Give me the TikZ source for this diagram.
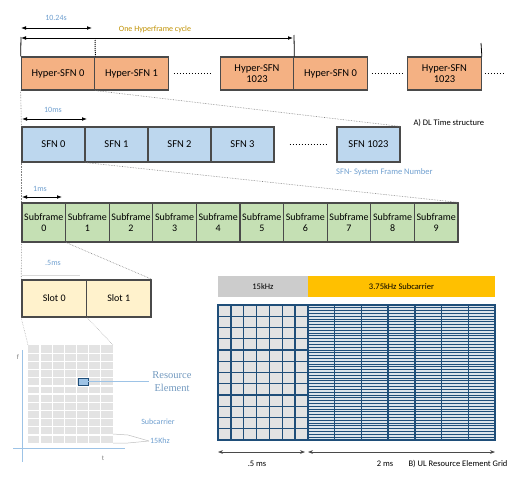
\documentclass[tikz,border=0pt]{standalone}
\usepackage{fontspec}
\setmainfont{Carlito}
\newfontfamily\reserif{Liberation Serif}
\usetikzlibrary{arrows.meta}

\definecolor{hyperfill}{HTML}{F4B183}
\definecolor{sfnfill}{HTML}{BDD7EE}
\definecolor{subfill}{HTML}{C5E0B4}
\definecolor{slotfill}{HTML}{FFF2CC}
\definecolor{boxline}{HTML}{4A4A4A}
\definecolor{labblue}{HTML}{6F9FCF}
\definecolor{cyclegold}{HTML}{BF9000}
\definecolor{ulblue}{HTML}{1F4E79}
\definecolor{ulgold}{HTML}{FFC000}
\definecolor{axisblue}{HTML}{9DC3E6}

\tikzset{
  hbox/.style={draw=boxline, line width=1.2pt, fill=hyperfill, minimum width=73.5pt,
    minimum height=33pt, inner sep=0pt, align=center, font=\fontsize{10.5}{11.5}\selectfont},
  sbox/.style={hbox, fill=sfnfill, minimum width=63pt, minimum height=35pt},
  subbox/.style={hbox, fill=subfill, minimum width=43.6pt, minimum height=39pt,
    font=\fontsize{10}{11.5}\selectfont},
  slotbox/.style={hbox, fill=slotfill, minimum width=64.5pt, minimum height=37pt,
    line width=1.5pt, font=\fontsize{10}{11}\selectfont},
  span/.style={{Latex[length=5pt]}-{Latex[length=5pt]}, line width=0.8pt},
  zoomline/.style={densely dotted, gray, line width=0.6pt},
  lab/.style={font=\fontsize{8}{9}\selectfont, text=labblue, inner sep=1pt},
}

\begin{document}
\begin{tikzpicture}[x=1pt,y=-1pt]
  \useasboundingbox (0,0) rectangle (525,480);

  % hyperframe row
  \node[hbox] (h0) at (58,73.5) {Hyper-SFN 0};
  \node[hbox] (h1) at (131.5,73.5) {Hyper-SFN 1};
  \node[hbox] (h1023) at (257,73.5) {Hyper-SFN\\1023};
  \node[hbox] (h0b) at (330.5,73.5) {Hyper-SFN 0};
  \node[hbox] (hlast) at (444.5,73.5) {Hyper-SFN\\1023};
  \draw[dotted, line width=1pt] ([xshift=5pt]h1.east) -- ([xshift=-7pt]h1023.west);
  \draw[dotted, line width=1pt] ([xshift=4pt]h0b.east) -- ([xshift=-4pt]hlast.west);
  \draw[dotted, line width=1pt] ([xshift=3pt]hlast.east) -- ++(20,0);

  \coordinate (ta) at (21,28);
  \coordinate (tb) at (92,28);
  \coordinate (ca) at (21,38);
  \coordinate (cb) at (293,38);
  \draw[span] (ta) -- (tb);
  \draw[span] (ca) -- (cb);
  \node[lab] (tlab) at (56,18) {10.24s};
  \node[lab, text=cyclegold] (clab) at (155,29) {One Hyperframe cycle};
  \draw[line width=0.8pt] (21,37) -- (h0.north west);
  \draw[densely dotted, line width=1pt] (95,40) -- (h0.north east);
  \draw[line width=0.8pt] (294,35) -- (h1023.north east);
  \draw[line width=0.8pt] (481,43) -- (hlast.north east);

  % system frame row
  \node[sbox] (s0) at (53.5,144.5) {SFN 0};
  \node[sbox] (s1) at (116.5,144.5) {SFN 1};
  \node[sbox] (s2) at (179.5,144.5) {SFN 2};
  \node[sbox] (s3) at (242.5,144.5) {SFN 3};
  \node[sbox] (s1023) at (368.5,144.5) {SFN 1023};
  \draw[dotted, line width=1pt] ([xshift=15pt]s3.east) -- ([xshift=-10pt]s1023.west);
  \coordinate (fa) at (22,119);
  \coordinate (fb) at (87,119);
  \draw[span] (fa) -- (fb);
  \node[lab] (flab) at (53,110) {10ms};
  \node[font=\fontsize{8.5}{9}\selectfont, anchor=west] (dl) at (410,123) {A) DL Time structure};
  \node[lab, font=\fontsize{8.5}{9}\selectfont, anchor=west] (sfnkey) at (335,172) {SFN- System Frame Number};
  \draw[zoomline] (h0.south west) -- (s0.north west);
  \draw[zoomline] (h0.south east) -- (s1023.north east);

  % subframe row
  \foreach \i in {0,...,9}
    \node[subbox] (sf\i) at (43.8+\i*43.6,222.5) {Subframe\\\i};
  \coordinate (ma) at (22,197);
  \coordinate (mb) at (62,197);
  \draw[span] (ma) -- (mb);
  \node[lab] (mlab) at (40,189) {1ms};
  \draw[zoomline] (s0.south west) -- (sf0.north west);
  \draw[zoomline] (s0.south east) -- (sf9.north east);

  % slot row
  \node[slotbox] (sl0) at (54.25,298.5) {Slot 0};
  \node[slotbox] (sl1) at (118.75,298.5) {Slot 1};
  \draw[gray!30, line width=0.8pt] (22,275) -- (80,275);
  \node[lab] (hlab) at (53,263) {.5ms};
  \draw[zoomline] (sf0.south west) -- (sl0.north west);
  \draw[zoomline] (sf0.south east) -- (sl1.north east);

  % DL resource grid
  \coordinate (ga) at (28,345);
  \coordinate (gb) at (113,443);
  \fill[gray!22] (ga) rectangle (gb);
  \foreach \i in {1,...,6}
    \draw[white, line width=1.3pt] (28+\i*12.14,345) -- (28+\i*12.14,443);
  \foreach \j in {1,...,11}
    \draw[white, line width=1.3pt] (28,345+\j*8.17) -- (113,345+\j*8.17);
  \draw[zoomline, gray!60] (sl0.south west) -- (ga);
  \draw[zoomline, gray!60] (sl0.south east) -- (113,345);
  \draw[axisblue, line width=0.7pt] (22,350) -- (22,462);
  \draw[axisblue, line width=0.7pt] (13,448) -- (125,448);
  \node[font=\fontsize{7}{8}\selectfont, text=gray] (fax) at (18,357) {f};
  \node[font=\fontsize{7}{8}\selectfont, text=gray] (tax) at (103,458) {t};
  \node[draw=ulblue, line width=0.8pt, fill=axisblue, minimum width=10pt, minimum height=7pt,
    inner sep=0pt] (recell) at (83,381.5) {};
  \node[font=\reserif\fontsize{10.5}{12.5}\selectfont, text=labblue!80!gray, align=center] (retext)
    at (172,381.5) {Resource\\Element};
  \draw[axisblue, line width=0.7pt] (recell.east) -- (retext.west);
  \node[lab, font=\fontsize{8}{9}\selectfont] (subc) at (158,422) {Subcarrier};
  \node[lab, font=\fontsize{8}{9}\selectfont] (khz) at (160,441) {15Khz};
  \draw[gray!50, line width=0.5pt] (113,434) -- (128,435) -- (khz.west);
  \draw[gray!50, line width=0.5pt] (113,443) -- (128,443) -- (khz.west);

  % UL resource grid
  \node[fill=gray!40, minimum width=90pt, minimum height=21pt, inner sep=0pt,
    font=\fontsize{8.5}{9}\selectfont] (hdr15) at (263,286.5) {15kHz};
  \node[fill=ulgold, minimum width=187pt, minimum height=21pt, inner sep=0pt,
    font=\fontsize{8.5}{9}\selectfont] (hdr375) at (401.5,286.5) {3.75kHz Subcarrier};
  \fill[gray!22] (218,305) rectangle (308,440);
  \fill[ulblue!15] (308,305) rectangle (495,440);
  \foreach \j in {1,...,47}
    \draw[ulblue, line width=1pt] (308,305+\j*2.8125) -- (495,305+\j*2.8125);
  \foreach \j in {1,...,11}
    \draw[ulblue, line width=1.4pt] (218,305+\j*11.25) -- (308,305+\j*11.25);
  \foreach \i in {1,...,6}
    \draw[ulblue, line width=1.4pt] (218+\i*12.857,305) -- (218+\i*12.857,440);
  \foreach \i in {1,...,6}
    \draw[ulblue, line width=1.4pt] (308+\i*26.71,305) -- (308+\i*26.71,440);
  \draw[ulblue, line width=1.6pt] (218,305) rectangle (495,440) (308,305) -- (308,440);

  \coordinate (ua) at (218,452);
  \coordinate (ub) at (305,452);
  \coordinate (uc) at (308,452);
  \coordinate (ud) at (495,452);
  \draw[{Stealth[length=5pt]}-{Stealth[length=5pt]}, boxline, line width=0.6pt] (ua) -- (ub);
  \draw[{Stealth[length=5pt]}-{Stealth[length=5pt]}, boxline, line width=0.6pt] (uc) -- (ud);
  \node[font=\fontsize{8.5}{9}\selectfont] (half) at (257,464) {.5 ms};
  \node[font=\fontsize{8.5}{9}\selectfont] (two) at (385,464) {2 ms};
  \node[font=\fontsize{8.5}{9}\selectfont] (ul) at (458,464) {B) UL Resource Element Grid};
\end{tikzpicture}
\end{document}
